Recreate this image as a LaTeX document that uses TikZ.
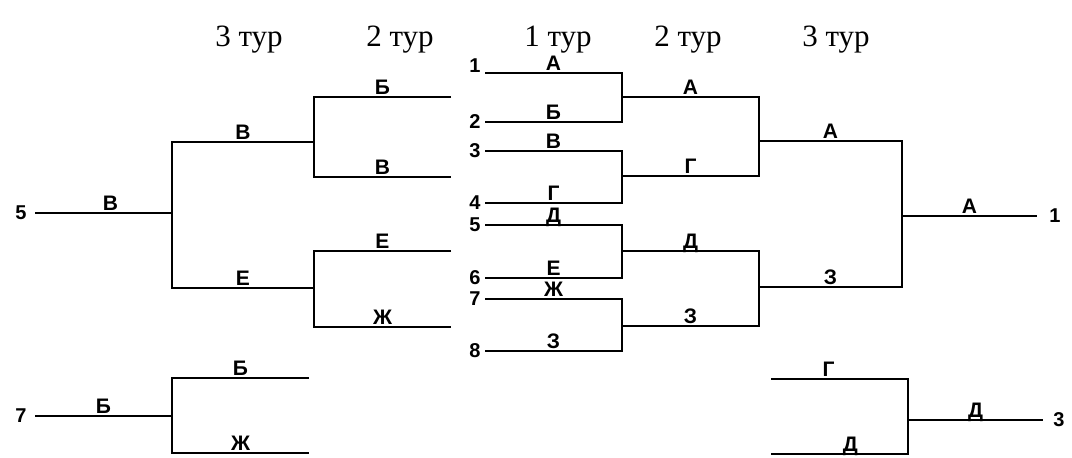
\documentclass[tikz,border=0pt]{standalone}
\usepackage{fontspec}
\setmainfont{Liberation Serif}
\newfontfamily\bracketfont{Liberation Sans}
\usetikzlibrary{positioning}

\begin{document}
\begin{tikzpicture}[x=0.5pt,y=-0.5pt,
                    bar/.style={draw,line width=1.4pt},
                    tur/.style={anchor=base,inner sep=0pt,font=\fontsize{15.5}{18}\selectfont},
                    team/.style={anchor=base,yshift=1.5pt,inner sep=0pt,font=\bracketfont\bfseries\fontsize{10.5}{12}\selectfont},
                    place/.style={inner sep=0pt,font=\bracketfont\bfseries\fontsize{10}{12}\selectfont}]

  \useasboundingbox (0,0) rectangle (1072,457);

  % headers
  \foreach \x/\n in {249/3,400/2,558/1,688/2,836/3}
    \node[tur] at (\x,46) {\n~тур};

  % first round, players 1..8
  \foreach \i/\y/\u in {1/73/3.5,2/122/0,3/151/0,4/203/0,5/225/0,6/278/0,7/299/0,8/351/0}{
    \coordinate (s\i) at (485,\y);
    \node[place,left=2pt of s\i,yshift=\u pt] (n\i) {\i};
  }

  % right half
  \coordinate (a1) at (622,97);
  \coordinate (a2) at (622,176);
  \coordinate (a3) at (622,251);
  \coordinate (a4) at (622,326);
  \coordinate (b1) at (759,141);
  \coordinate (b2) at (759,287);
  \coordinate (c1) at (902,216);
  \coordinate (t1) at (1037,216);
  \node[place,right=6pt of t1] (w1) {1};

  \draw[bar] (s1) -| node[team,pos=.25]{А} (a1) |- node[team,pos=.75]{Б} (s2);
  \draw[bar] (s3) -| node[team,pos=.25]{В} (a2) |- node[team,pos=.75]{Г} (s4);
  \draw[bar] (s5) -| node[team,pos=.25]{Д} (a3) |- node[team,pos=.75]{Е} (s6);
  \draw[bar] (s7) -| node[team,pos=.25]{Ж} (a4) |- node[team,pos=.75]{З} (s8);
  \draw[bar] (a1) -| node[team,pos=.25]{А} (b1) |- node[team,pos=.75]{Г} (a2);
  \draw[bar] (a3) -| node[team,pos=.25]{Д} (b2) |- node[team,pos=.75]{З} (a4);
  \draw[bar] (b1) -| node[team,pos=.25]{А} (c1) |- node[team,pos=.75]{З} (b2);
  \draw[bar] (c1) -- node[team]{А} (t1);

  % left half
  \coordinate (l1) at (451,97);
  \coordinate (l2) at (451,177);
  \coordinate (l3) at (451,251);
  \coordinate (l4) at (451,327);
  \coordinate (m1) at (314,142);
  \coordinate (m2) at (314,288);
  \coordinate (e1) at (172,213);
  \coordinate (t5) at (35,213);
  \node[place,left=4pt of t5] (w5) {5};

  \draw[bar] (l1) -| node[team,pos=.25]{Б} (m1) |- node[team,pos=.75]{В} (l2);
  \draw[bar] (l3) -| node[team,pos=.25]{Е} (m2) |- node[team,pos=.75]{Ж} (l4);
  \draw[bar] (m1) -| node[team,pos=.25]{В} (e1) |- node[team,pos=.75]{Е} (m2);
  \draw[bar] (e1) -- node[team,pos=.45]{В} (t5);

  % bottom left
  \coordinate (l5) at (309,378);
  \coordinate (l6) at (309,453);
  \coordinate (e2) at (172,416);
  \coordinate (t7) at (35,416);
  \node[place,left=4pt of t7] (w7) {7};

  \draw[bar] (l5) -| node[team,pos=.25]{Б} (e2) |- node[team,pos=.75]{Ж} (l6);
  \draw[bar] (e2) -- node[team]{Б} (t7);

  % bottom right
  \coordinate (k1) at (771,379);
  \coordinate (k2) at (771,454);
  \coordinate (d1) at (908,420);
  \coordinate (t3) at (1043,420);
  \node[place,right=5pt of t3] (w3) {3};

  \draw[bar] (k1) -| node[team,pos=.21]{Г} (d1) |- node[team,pos=.71]{Д} (k2);
  \draw[bar] (d1) -- node[team]{Д} (t3);
\end{tikzpicture}
\end{document}
